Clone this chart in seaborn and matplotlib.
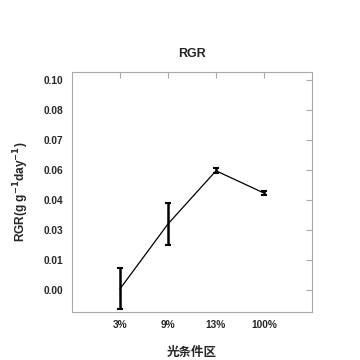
import numpy as np
import pandas as pd
import seaborn as sns
import matplotlib.pyplot as plt

# donnees
traitements = ['3%', '9%', '13%', '100%']
rgr_moy = [0.0005, 0.0308, 0.0556, 0.0452]
rgr_err = [0.0096, 0.0098, 0.0012, 0.0009]
y_ticks = [0.0, 0.014, 0.028, 0.042, 0.056, 0.070, 0.084, 0.098]

df = pd.DataFrame({'traitement': traitements, 'rgr': rgr_moy, 'err': rgr_err})

sns.set_style("white")
plt.rcParams['font.family'] = ['Liberation Sans', 'Noto Sans CJK SC', 'DejaVu Sans']
plt.rcParams['font.weight'] = 'bold'

fig = plt.figure(figsize=(3.6, 3.6), dpi=100)
ax = fig.add_axes([72/360, 48/360, 240/360, 240/360])

sns.lineplot(data=df, x='traitement', y='rgr', color='black', linewidth=0.9,
             sort=False, ax=ax)
ax.errorbar(range(len(traitements)), df['rgr'], yerr=df['err'], fmt='none',
            ecolor='black', elinewidth=1.8, capsize=2, capthick=1.5)

ax.set_xlim(-1, 4)
ax.set_ylim(-0.0103, 0.1017)
ax.set_yticks(y_ticks)
ax.set_yticklabels([f'{v:.2f}' for v in y_ticks])

for s in ax.spines.values():
    s.set_color('#aaaaaa')
    s.set_linewidth(0.8)
ax.tick_params(direction='in', length=4, color='#aaaaaa', labelsize=7.3,
               top=True, right=True, pad=6)
for lab in ax.get_xticklabels() + ax.get_yticklabels():
    lab.set_fontweight('bold')

ax.set_title('RGR', fontsize=9, fontweight='bold', pad=11)
ax.set_xlabel('光条件区', fontsize=9, fontweight='bold', labelpad=11,
              family=['Noto Sans CJK SC', 'DejaVu Sans'])
ax.set_ylabel(r'RGR(g g$^{\mathbf{-1}}$day$^{\mathbf{-1}}$)', fontsize=8.6,
              fontweight='bold', labelpad=9)

fig.savefig('out.png', dpi=100, facecolor='white')
